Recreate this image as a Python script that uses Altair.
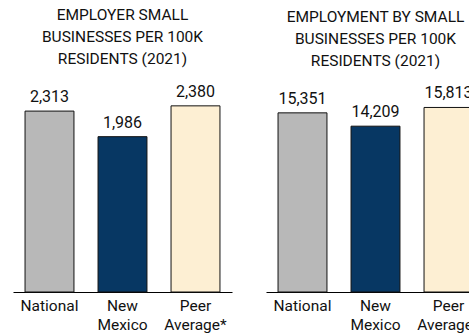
import altair as alt
import pandas as pd

categories = ["National", "New Mexico", "Peer Average*"]
small_biz_per_100k = [2313, 1986, 2380]
employment_per_100k = [15351, 14209, 15813]
colors = ["#b8b8b8", "#073763", "#fdefd3"]

title_left = ["EMPLOYER SMALL", "BUSINESSES PER 100K", "RESIDENTS (2021)"]
title_right = ["EMPLOYMENT BY SMALL", "BUSINESSES PER 100K", "RESIDENTS (2021)"]

FONT = "Roboto"


def panel(values, title, ymax):
    df = pd.DataFrame({"cat": categories, "val": values})
    base = alt.Chart(df).encode(
        x=alt.X(
            "cat:N",
            sort=categories,
            scale=alt.Scale(paddingInner=0.33, paddingOuter=0.165),
            axis=alt.Axis(
                title=None,
                labelAngle=0,
                ticks=False,
                domainColor="#000000",
                domainWidth=1.2,
                labelFont=FONT,
                labelFontSize=15.5,
                labelColor="#111111",
                labelPadding=6,
                labelLineHeight=19,
                labelExpr="split(datum.label, ' ')",
                labelBaseline="top",
            ),
        ),
        y=alt.Y("val:Q", scale=alt.Scale(domain=[0, ymax], nice=False), axis=None),
    )
    bars = base.mark_bar(stroke="#111111", strokeWidth=1).encode(
        color=alt.Color("cat:N", sort=categories,
                        scale=alt.Scale(domain=categories, range=colors), legend=None)
    )
    labels = base.mark_text(dy=-14, font=FONT, fontSize=16, color="#111111").encode(
        text=alt.Text("val:Q", format=",")
    )
    return (bars + labels).properties(
        width=219,
        height=200,
        title=alt.TitleParams(
            text=title,
            font=FONT,
            fontSize=15.5,
            fontWeight="normal",
            color="#111111",
            lineHeight=22,
            anchor="middle",
            offset=16,
        ),
    )


left = panel(small_biz_per_100k, title_left, 2557)
right = panel(employment_per_100k, title_right, 17138)

chart = (
    alt.hconcat(left, right, spacing=34)
    .properties(
        autosize=alt.AutoSizeParams(type="none"),
        padding={"left": 13, "top": 92, "right": 456, "bottom": 242},
    )
    .configure_view(stroke=None)
)

chart.save("out.html", embed_options={"renderer": "svg", "actions": False})
